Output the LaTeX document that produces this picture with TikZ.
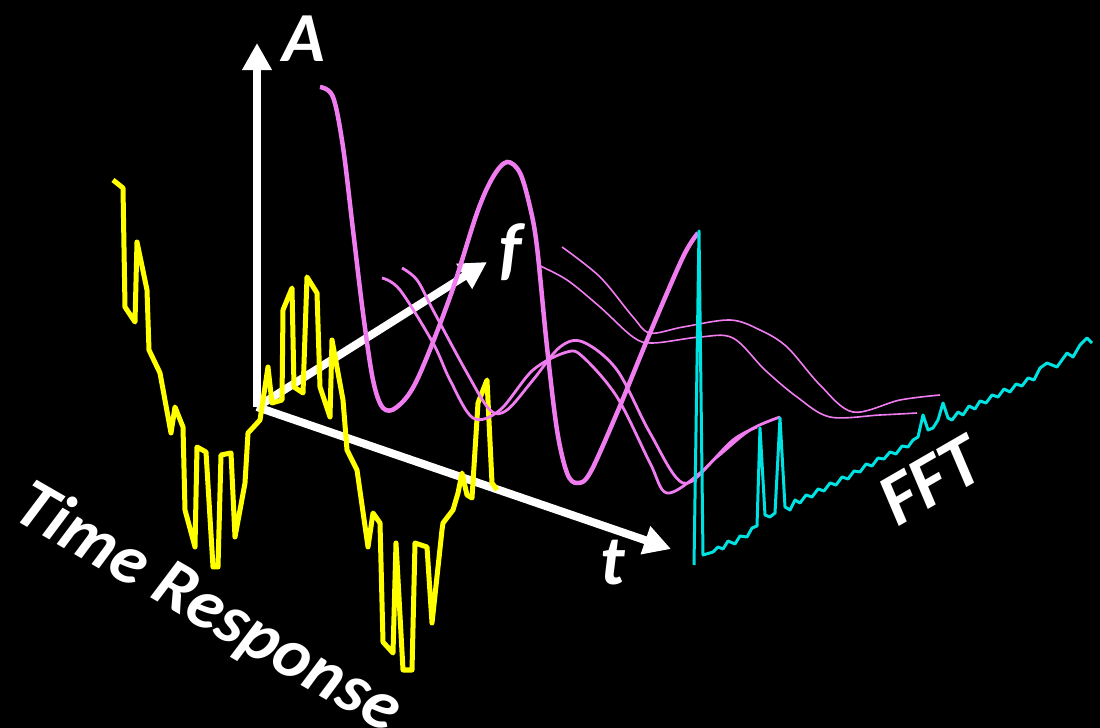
\documentclass[tikz,border=0pt]{standalone}
\usepackage{fontspec}
\setmainfont{Carlito}
\usetikzlibrary{arrows.meta}
\definecolor{timeyellow}{RGB}{255,255,0}
\definecolor{specpink}{RGB}{240,125,240}
\definecolor{fftcyan}{RGB}{0,225,225}

\begin{document}
\begin{tikzpicture}[
    x=0.01cm, y=-0.01cm,
    axis/.style={white, line width=0.08cm, -{Triangle[length=0.27cm, width=0.28cm]}},
    lbl/.style={text=white, font=\fontsize{20}{24}\selectfont\bfseries\itshape, inner sep=0pt},
    biglbl/.style={lbl, font=\fontsize{21}{25}\selectfont\bfseries\itshape},
    timeline/.style={timeyellow, line width=0.05cm, line join=round},
    wavethick/.style={specpink, line width=0.045cm},
    wavemid/.style={specpink, line width=0.028cm},
    wavethin/.style={specpink, line width=0.016cm},
    fftline/.style={fftcyan, line width=0.03cm, line join=round}
]
\path[use as bounding box, fill=black] (0,0) rectangle (1100,728);

% axes
\coordinate (origin) at (257,407);
\coordinate (aTip) at (257,43);
\coordinate (fTip) at (487,262);
\coordinate (tTip) at (671,549);
\draw[axis] (origin) -- (aTip);
\draw[axis] (origin) -- (fTip);
\draw[axis] (origin) -- (tTip);

% time response
\draw[timeline] (113,180) -- (123,188) -- (125,307) -- (135,322) -- (137,242)
  -- (147,290) -- (149,350) -- (160,373) -- (171,433) -- (175,407) -- (183,427)
  -- (185,510) -- (195,547) -- (197,447) -- (206,452) -- (213,567) -- (218,567)
  -- (221,455) -- (231,453) -- (235,537) -- (245,483) -- (248,433) -- (260,420)
  -- (268,367) -- (272,403) -- (282,400) -- (283,310) -- (292,288) -- (294,387)
  -- (303,393) -- (307,277) -- (317,293) -- (320,387) -- (330,417) -- (332,340)
  -- (343,400) -- (347,450) -- (357,470) -- (368,547) -- (373,513) -- (380,523)
  -- (383,642) -- (393,653) -- (396,543) -- (403,670) -- (412,670) -- (415,543)
  -- (427,547) -- (432,623) -- (442,530) -- (443,523) -- (453,510) -- (458,493)
  -- (462,473) -- (467,495) -- (472,498) -- (478,403) -- (487,380) -- (492,483)
  -- (497,490);

% spectra
\draw[wavethick] plot[smooth, tension=0.55] coordinates {(320,87) (333,97) (343,147)
  (353,230) (363,313) (373,380) (383,408) (397,407) (417,380) (450,297) (477,213)
  (493,177) (507,162) (520,173) (530,207) (537,247) (547,347) (557,430) (567,473)
  (577,483) (590,473) (617,413) (650,333) (683,257) (698,233)};
\draw[wavemid] plot[smooth, tension=0.55] coordinates {(382,278) (400,290) (433,343)
  (450,380) (473,418) (500,410) (533,370) (567,352) (583,357) (617,397) (650,463)
  (667,493) (700,473) (733,440) (757,427)};
\draw[wavemid] plot[smooth, tension=0.55] coordinates {(402,268) (417,280) (433,310)
  (467,373) (490,410) (507,410) (533,380) (560,347) (583,342) (617,370) (650,433)
  (683,483) (717,457) (750,430) (780,417)};
\draw[wavethin] plot[smooth, tension=0.55] coordinates {(538,265) (567,280) (600,307)
  (633,337) (653,343) (700,337) (733,338) (765,370) (797,397) (830,417) (880,415)
  (917,413)};
\draw[wavethin] plot[smooth, tension=0.55] coordinates {(562,247) (600,277) (633,317)
  (650,333) (683,327) (730,320) (760,330) (787,347) (820,385) (853,412) (900,400)
  (940,395)};

% fft
\draw[fftline] (694,565) -- (699,231) -- (703,555) -- (713,552) -- (718,547)
  -- (723,549) -- (728,541) -- (735,544) -- (740,536) -- (747,537) -- (752,528)
  -- (757,526) -- (760,428) -- (765,515) -- (770,517) -- (775,513) -- (780,418)
  -- (785,507) -- (790,510) -- (795,500) -- (800,503) -- (806,495) -- (812,497)
  -- (818,489) -- (824,491) -- (830,483) -- (836,485) -- (842,477) -- (848,479)
  -- (854,471) -- (860,472) -- (866,464) -- (872,466) -- (878,458) -- (884,459)
  -- (890,452) -- (896,454) -- (902,446) -- (908,447) -- (913,440) -- (918,437)
  -- (923,415) -- (928,430) -- (933,428) -- (938,420) -- (943,403) -- (948,418)
  -- (952,420) -- (958,412) -- (963,415) -- (969,406) -- (975,409) -- (980,401)
  -- (986,403) -- (992,395) -- (998,397) -- (1004,389) -- (1010,392) -- (1016,384)
  -- (1022,386) -- (1028,378) -- (1034,380) -- (1040,368) -- (1047,363) -- (1057,367)
  -- (1067,353) -- (1073,357) -- (1080,345) -- (1087,338) -- (1092,343);

% labels
\node[lbl, anchor=base west] (lblA) at (282,62) {A};
\node[lbl] (lblF) at (511,252) {f};
\node[lbl, anchor=base] (lblT) at (613,585) {t};
\node[lbl, anchor=base west, rotate=-30] (lblTime) at (10,517) {Time Response};
\node[biglbl, anchor=base west, rotate=30] (lblFFT) at (897,528) {FFT};
\end{tikzpicture}
\end{document}
